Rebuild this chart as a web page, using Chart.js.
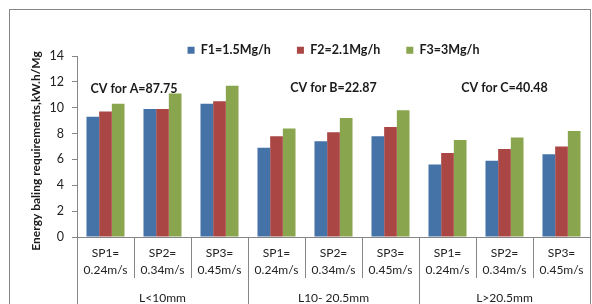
<!DOCTYPE html>
<html>
<head>
<meta charset="utf-8">
<script src="https://cdn.jsdelivr.net/npm/chart.js@4.4.1/dist/chart.umd.min.js"></script>
<style>
  html, body { margin: 0; padding: 0; background: #fff; }
  #wrap { width: 592px; height: 304px; }
</style>
</head>
<body>
<div id="wrap"><canvas id="chart" width="592" height="304"></canvas></div>
<script>
// data
const categories = [
    ['SP1=', '0.24m/s'], ['SP2=', '0.34m/s'], ['SP3=', '0.45m/s'],
    ['SP1=', '0.24m/s'], ['SP2=', '0.34m/s'], ['SP3=', '0.45m/s'],
    ['SP1=', '0.24m/s'], ['SP2=', '0.34m/s'], ['SP3=', '0.45m/s'],
]
const groups = ['L<10mm', 'L10- 20.5mm', 'L>20.5mm']
const seriesNames = ['F1=1.5Mg/h', 'F2=2.1Mg/h', 'F3=3Mg/h']
const f1 = [9.3, 9.9, 10.3, 6.9, 7.4, 7.8, 5.6, 5.9, 6.4]
const f2 = [9.7, 9.9, 10.5, 7.8, 8.1, 8.5, 6.5, 6.8, 7.0]
const f3 = [10.3, 11.1, 11.7, 8.4, 9.2, 9.8, 7.5, 7.7, 8.2]
const cvNotes = ['CV for A=87.75', 'CV for B=22.87', 'CV for C=40.48']
const yTitle = 'Energy baling requirements,kW.h/Mg'

const colors = ['#4572A7', '#AA4643', '#89A54E']
const lineGray = '#868686'
const font = 'Lato'

// outer frame + white background
const framePlugin = {
    id: 'frame',
    beforeDraw(chart) {
        const c = chart.ctx
        c.save()
        c.fillStyle = '#fff'
        c.fillRect(0, 0, chart.width, chart.height)
        c.strokeStyle = lineGray
        c.lineWidth = 1
        c.strokeRect(9.5, 9.5, 581, 400)
        c.restore()
    },
}

// category table lines under the x axis, the CV notes and the y title
const extrasPlugin = {
    id: 'extras',
    afterDraw(chart) {
        const c = chart.ctx
        const x = chart.scales.x
        const y = chart.scales.y
        c.save()
        c.strokeStyle = lineGray
        c.lineWidth = 1
        for (let i = 0; i <= categories.length; i++) {
            const px = Math.round(x.getPixelForValue(i - 0.5)) + 0.5
            const bottom = i % 3 === 0 ? chart.height : x.top + 41
            c.beginPath()
            c.moveTo(px, x.top)
            c.lineTo(px, bottom)
            c.stroke()
        }

        c.fillStyle = '#1a1a1a'
        c.font = 'bold 12.5px ' + font
        c.textAlign = 'center'
        c.textBaseline = 'middle'
        const anchors = [[0.5, 11.45], [4, 11.5], [7, 11.5]]
        cvNotes.forEach((t, i) => {
            c.fillText(t, x.getPixelForValue(anchors[i][0]), y.getPixelForValue(anchors[i][1]))
        })

        c.translate(36, 151)
        c.rotate(-Math.PI / 2)
        c.font = 'bold 12px ' + font
        c.fillText(yTitle, 0, 0)
        c.restore()
    },
}

new Chart(document.getElementById('chart'), {
    type: 'bar',
    data: {
        labels: categories,
        datasets: seriesNames.map((name, i) => ({
            label: name,
            data: [f1, f2, f3][i],
            backgroundColor: colors[i],
            borderWidth: 0,
            categoryPercentage: 0.667,
            barPercentage: 1.0,
        })),
    },
    options: {
        responsive: false,
        animation: false,
        layout: { padding: { left: 10, right: 2, top: 18, bottom: 0 } },
        plugins: {
            legend: {
                position: 'top',
                fullSize: false,
                maxHeight: 38,
                labels: {
                    boxWidth: 7,
                    boxHeight: 7,
                    padding: 26,
                    color: '#1a1a1a',
                    font: { family: font, size: 12.5, weight: 'bold' },
                },
            },
            tooltip: { enabled: false },
        },
        scales: {
            x: {
                grid: { display: false, drawTicks: false },
                border: { display: true, color: lineGray },
                ticks: {
                    color: '#222',
                    padding: 8,
                    maxRotation: 0,
                    autoSkip: false,
                    font: { family: font, size: 12, lineHeight: 1.4 },
                },
                afterFit(scale) { scale.height = 41 },
            },
            x2: {
                type: 'category',
                labels: groups,
                position: 'bottom',
                grid: { display: false },
                border: { display: false },
                ticks: {
                    color: '#222',
                    padding: 5,
                    font: { family: font, size: 12 },
                },
                afterFit(scale) { scale.height = 26 },
            },
            y: {
                min: 0,
                max: 14,
                ticks: {
                    stepSize: 2,
                    color: '#222',
                    padding: 8,
                    font: { family: font, size: 12.5 },
                },
                grid: { drawOnChartArea: false, tickLength: 5, color: lineGray },
                border: { color: lineGray },
                afterFit(scale) { scale.width = 67 },
            },
        },
    },
    plugins: [framePlugin, extrasPlugin],
})
</script>
</body>
</html>
